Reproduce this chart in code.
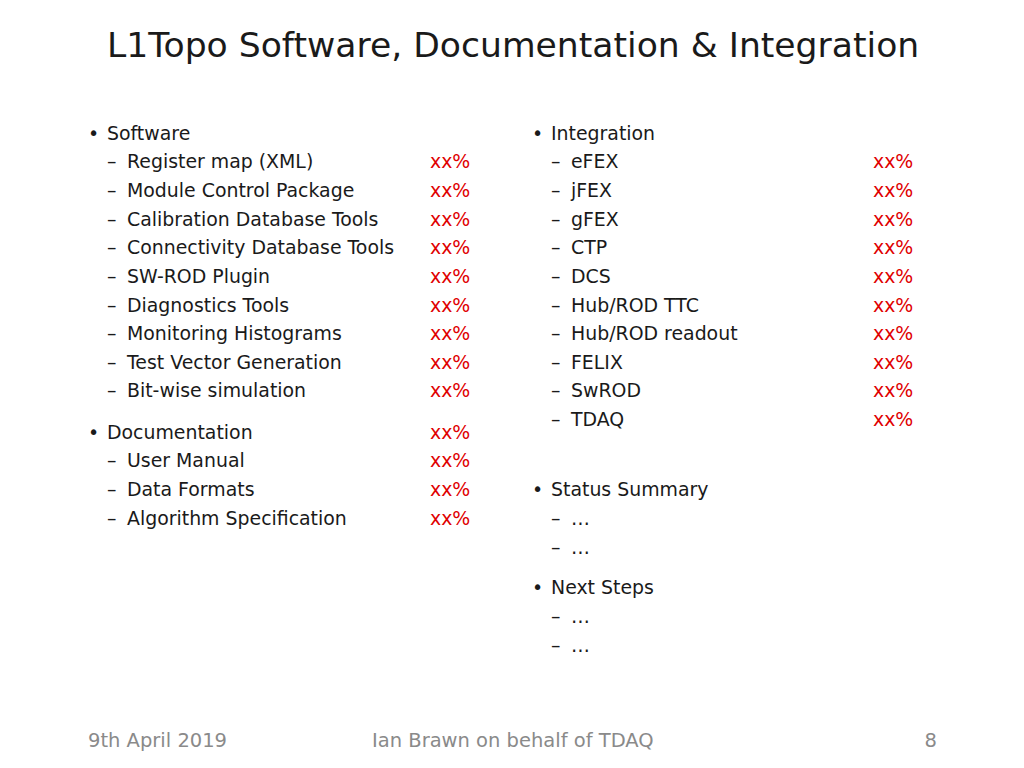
<!DOCTYPE html>
<html>
<head>
<meta charset="utf-8">
<script src="https://cdn.jsdelivr.net/npm/chart.js@4/dist/chart.umd.min.js"></script>
<style>
  body { margin: 0; width: 1024px; height: 768px; background: #fff; position: relative; overflow: hidden;
         font-family: "DejaVu Sans", sans-serif; color: #1a1a1a; }
  .t { position: absolute; white-space: nowrap; line-height: 1; transform: translateY(-50%); font-size: 18.9px; }
  .red { color: #e00000; }
  .foot { color: #8a8a8a; font-size: 19.5px; }
</style>
</head>
<body>
<script>
// slide content
const title = 'L1Topo Software, Documentation & Integration';
const softwareItems = ['Register map (XML)', 'Module Control Package', 'Calibration Database Tools',
  'Connectivity Database Tools', 'SW-ROD Plugin', 'Diagnostics Tools', 'Monitoring Histograms',
  'Test Vector Generation', 'Bit-wise simulation'];
const softwareRows = [161, 190, 219, 247, 276, 305, 333, 362, 390];
const docItems = ['User Manual', 'Data Formats', 'Algorithm Specification'];
const docRows = [460, 489, 518];
const integrationItems = ['eFEX', 'jFEX', 'gFEX', 'CTP', 'DCS', 'Hub/ROD TTC', 'Hub/ROD readout', 'FELIX', 'SwROD', 'TDAQ'];
const integrationRows = [161, 190, 219, 247, 276, 305, 333, 362, 390, 419];
const percent = 'xx%';

function put(text, x, y, cls) {
  const d = document.createElement('div');
  d.className = 't' + (cls ? ' ' + cls : '');
  d.style.left = x + 'px';
  d.style.top = y + 'px';
  d.textContent = text;
  document.body.appendChild(d);
  return d;
}
function bullet(text, x, y) { put('•', x, y); put(text, x + 19, y); }
function sub(text, x, y) { put('–', x, y); put(text, x + 20, y); }

const t = put(title, 107, 45);
t.style.fontSize = '34.6px';

// left column
bullet('Software', 88, 133);
softwareItems.forEach((s, i) => { sub(s, 107, softwareRows[i]); put(percent, 430, softwareRows[i], 'red'); });
bullet('Documentation', 88, 432); put(percent, 430, 432, 'red');
docItems.forEach((s, i) => { sub(s, 107, docRows[i]); put(percent, 430, docRows[i], 'red'); });

// right column
bullet('Integration', 532, 133);
integrationItems.forEach((s, i) => { sub(s, 551, integrationRows[i]); put(percent, 873, integrationRows[i], 'red'); });
bullet('Status Summary', 532, 489);
sub('…', 551, 518); sub('…', 551, 547);
bullet('Next Steps', 532, 587);
sub('…', 551, 616); sub('…', 551, 645);

// footer
put('9th April 2019', 88, 741, 'foot');
put('Ian Brawn on behalf of TDAQ', 372, 741, 'foot');
const n = put('8', 0, 741, 'foot');
n.style.left = 'auto'; n.style.right = '87px';
</script>
</body>
</html>
